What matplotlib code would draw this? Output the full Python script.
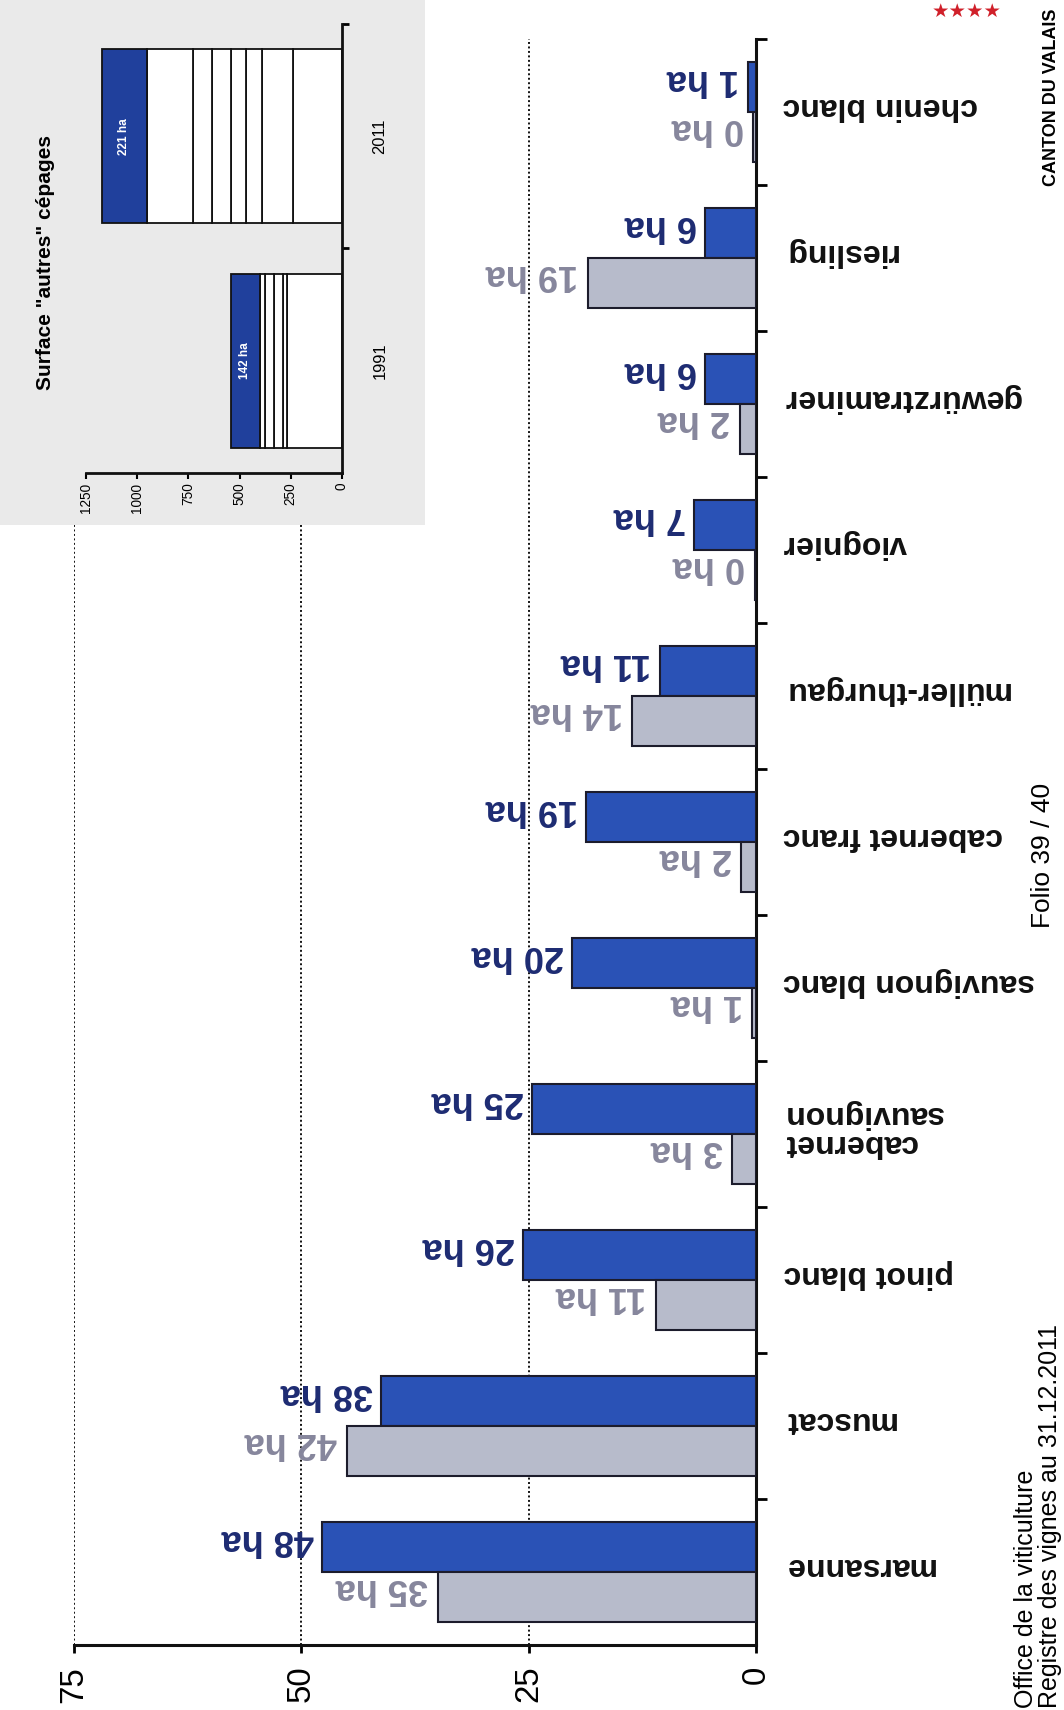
import numpy as np
import matplotlib
matplotlib.use('Agg')
import matplotlib.pyplot as plt
from matplotlib import font_manager
from matplotlib.patches import Rectangle
from matplotlib.transforms import blended_transform_factory

# Gegevens (surfaces en ha)
cepages = ['marsanne', 'muscat', 'pinot blanc', 'cabernet\nsauvignon', 'sauvignon blanc',
           'cabernet franc', 'müller-thurgau', 'viognier', 'gewürztraminer', 'riesling',
           'chenin blanc']
ha_2011 = [47.7, 41.2, 25.6, 24.6, 20.2, 18.7, 10.6, 6.8, 5.6, 5.6, 0.9]
ha_1991 = [35.0, 45.0, 11.0, 2.6, 0.4, 1.6, 13.6, 0.1, 1.8, 18.5, 0.3]
lab_2011 = ['48 ha', '38 ha', '26 ha', '25 ha', '20 ha', '19 ha', '11 ha', '7 ha', '6 ha', '6 ha', '1 ha']
lab_1991 = ['35 ha', '42 ha', '11 ha', '3 ha', '1 ha', '2 ha', '14 ha', '0 ha', '2 ha', '19 ha', '0 ha']
x_ticks = [0, 25, 50, 75]

# encart "autres" cepages
annees = ['1991', '2011']
parts_1991 = [269, 20, 44, 44, 24, 142]
parts_2011 = [239, 151, 78, 73, 93, 93, 225, 221]
total_labels = ['142 ha', '221 ha']
inset_ticks = [0, 250, 500, 750, 1000, 1250]

# kleuren
blue = '#2a52b6'
grey = '#b7bbcb'
edge = '#1c1c2c'
blue_txt = '#1d2b72'
grey_txt = '#86869c'
inset_blue = '#20409c'

names = {f.name for f in font_manager.fontManager.ttflist}
has_narrow = 'Liberation Sans Narrow' in names
NAR = 'Liberation Sans Narrow' if has_narrow else 'Liberation Sans'
def nsz(s):
    return s if has_narrow else s * 0.85

W, H = 1064, 1710
fig = plt.figure(figsize=(W / 100, H / 100), dpi=100)
fig.patch.set_facecolor('white')

def fx(px):
    return px / W

def fy(px):
    return 1 - px / H

# hoofdgrafiek
ax = fig.add_axes([fx(74), fy(1645), fx(756) - fx(74), fy(39) - fy(1645)])
ax.set_xlim(75, 0)
ax.set_ylim(-0.5, 10.5)
y = np.arange(len(cepages))
ax.barh(y + 0.17, ha_2011, height=0.34, color=blue, edgecolor=edge, linewidth=1.5, zorder=3)
ax.barh(y - 0.17, ha_1991, height=0.34, color=grey, edgecolor=edge, linewidth=1.5, zorder=3)

ax.set_axisbelow(True)
ax.grid(axis='x', linestyle=(0, (1.0, 1.3)), color='#111111', linewidth=1.4)
for s in ['left', 'top']:
    ax.spines[s].set_visible(False)
for s in ['right', 'bottom']:
    ax.spines[s].set_linewidth(2.2)
    ax.spines[s].set_color('#111111')

ax.set_xticks(x_ticks)
ax.set_xticklabels([str(t) for t in x_ticks], rotation=90, fontsize=nsz(28), family=NAR)
ax.tick_params(axis='x', direction='out', length=6, width=2, pad=9)
ax.yaxis.tick_right()
ax.set_yticks(np.arange(0.5, 11, 1.0))
ax.set_yticklabels([])
ax.tick_params(axis='y', direction='out', length=8, width=2)

trans = blended_transform_factory(fig.transFigure, ax.transData)
for i, name in enumerate(cepages):
    ax.text(fx(783), y[i] + 0.04, name, transform=trans, rotation=180, ha='left', va='center',
            fontsize=23, fontweight='bold', family='Liberation Sans', color='#111111',
            multialignment='right', linespacing=0.95)
    ax.annotate(lab_2011[i], xy=(ha_2011[i], y[i] + 0.17 + 0.055), xytext=(-6, 0),
                textcoords='offset points', rotation=180, ha='right', va='center',
                fontsize=26, fontweight='bold', family='Liberation Sans', color=blue_txt)
    ax.annotate(lab_1991[i], xy=(ha_1991[i], y[i] - 0.17 + 0.055), xytext=(-7, 0),
                textcoords='offset points', rotation=180, ha='right', va='center',
                fontsize=26, fontweight='bold', family='Liberation Sans', color=grey_txt)

# encart
fig.add_artist(Rectangle((0, fy(525)), fx(425), 1 - fy(525), transform=fig.transFigure,
                         facecolor='#eaeaea', edgecolor='none', zorder=1))
axi = fig.add_axes([fx(86), fy(473), fx(342) - fx(86), fy(24) - fy(473)], zorder=2)
axi.patch.set_alpha(0)
axi.set_xlim(1250, 0)
axi.set_ylim(-0.5, 1.5)
for j, parts in enumerate([parts_1991, parts_2011]):
    left = 0
    for k, p in enumerate(parts):
        col = inset_blue if k == len(parts) - 1 else 'white'
        axi.barh(j, p, left=left, height=0.775, color=col, edgecolor='#111111', linewidth=1.3)
        left += p
    axi.text(left - parts[-1] / 2, j, total_labels[j], rotation=90, color='white', fontsize=8.5,
             fontweight='bold', ha='center', va='center', family='Liberation Sans')
for s in ['left', 'top']:
    axi.spines[s].set_visible(False)
for s in ['right', 'bottom']:
    axi.spines[s].set_linewidth(2)
    axi.spines[s].set_color('#111111')
axi.set_xticks(inset_ticks)
axi.set_xticklabels([str(t) for t in inset_ticks], rotation=90, fontsize=nsz(11.5), family=NAR)
axi.tick_params(axis='x', direction='out', length=4, width=1.5, pad=3)
axi.yaxis.tick_right()
axi.set_yticks([0.5, 1.5])
axi.set_yticklabels([])
axi.tick_params(axis='y', direction='out', length=5, width=2)
trans_i = blended_transform_factory(fig.transFigure, axi.transData)
for j, a in enumerate(annees):
    axi.text(fx(380), j, a, transform=trans_i, rotation=90, ha='center', va='center',
             fontsize=nsz(14), family=NAR)
fig.text(fx(46), fy(263), 'Surface "autres" cépages', rotation=90, ha='center', va='center',
         fontsize=18 if has_narrow else 15, fontweight='bold', family=NAR, zorder=3)

# kantlijn
fig.text(fx(1051), fy(186), 'CANTON DU VALAIS', rotation=90, ha='center', va='bottom',
         fontsize=13, fontweight='bold', family='Liberation Sans')
fig.text(fx(967), fy(11), '★★★★', color='#d0202a', fontsize=14, ha='center', va='center',
         family='DejaVu Sans')
fig.text(fx(1043), fy(855), 'Folio 39 / 40', rotation=90, ha='center', va='center',
         fontsize=19, family='Liberation Sans')
fig.text(fx(1014), fy(1708), 'Office de la viticulture\nRegistre des vignes au 31.12.2011',
         rotation=90, ha='left', va='bottom', fontsize=18, family='Liberation Sans',
         multialignment='left', linespacing=1.0)

fig.savefig('out.png', dpi=100)
